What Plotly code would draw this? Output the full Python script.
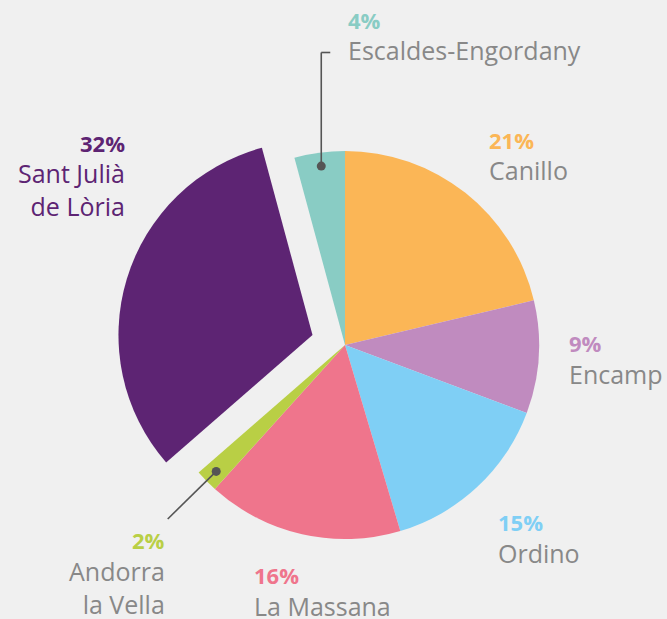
import math
import plotly.graph_objects as go

# ---- data ----
regions = ["Canillo", "Encamp", "Ordino", "La Massana", "Andorra la Vella",
           "Sant Julià de Lòria", "Escaldes-Engordany"]
shares = [21.3, 9.4, 14.7, 16.3, 1.9, 32.2, 4.2]
label_names = ["Canillo", "Encamp", "Ordino", "La Massana", "Andorra<br>la Vella",
               "Sant Julià<br>de Lòria", "Escaldes-Engordany"]

# ---- style ----
colors = ["#fbb656", "#c08bbf", "#7fcff5", "#ef758c", "#b9cf45", "#5d2473", "#89ccc4"]
pulls = [0, 0, 0, 0, 0, 0.175, 0]
BG = "#f0f0f0"
GREY = "#888888"
LINE = "#555555"
FONT = "Open Sans"
W, H = 667, 619
dom_x = [0.1754, 0.8591]
dom_y = [0.0743, 0.811]

# label layout (pixel): x, y-centre of percent line, anchor
label_layout = {
    "Canillo": (488, 140, "left"),
    "Encamp": (568, 343, "left"),
    "Ordino": (497, 522, "left"),
    "La Massana": (253, 575, "left"),
    "Andorra la Vella": (166, 540, "right"),
    "Sant Julià de Lòria": (126, 143, "right"),
    "Escaldes-Engordany": (347, 20, "left"),
}
LINE_GAP = 32.5

fig = go.Figure(go.Pie(
    labels=regions, values=shares, sort=False, direction="clockwise", rotation=0,
    marker=dict(colors=colors, line=dict(width=0)), pull=pulls,
    textinfo="none", hoverinfo="label+percent", showlegend=False,
    domain=dict(x=dom_x, y=dom_y),
))

def px2paper(x, y):
    return x / W, 1 - y / H

cx = (dom_x[0] + dom_x[1]) / 2 * W
cy = (1 - (dom_y[0] + dom_y[1]) / 2) * H
R = min((dom_x[1] - dom_x[0]) * W, (dom_y[1] - dom_y[0]) * H) / (2 * (1 + max(pulls)))
total = sum(shares)

annotations = []
shapes = []
cum = 0
for i, (name, v) in enumerate(zip(regions, shares)):
    mid = (cum + v / 2) / total * 2 * math.pi
    cum += v
    pct = round(v / total * 100)
    lx, ly, anchor = label_layout[name]
    xp, yp = px2paper(lx, ly)
    annotations.append(dict(
        x=xp, y=yp, xref="paper", yref="paper", xanchor=anchor, yanchor="middle",
        text=f"<b>{pct}%</b>", showarrow=False, align=anchor, borderpad=0,
        font=dict(family=FONT, size=22, color=colors[i], weight=800),
    ))
    xn, yn = px2paper(lx, ly + LINE_GAP - 20)
    annotations.append(dict(
        x=xn, y=yn, xref="paper", yref="paper", xanchor=anchor, yanchor="top",
        text=label_names[i], showarrow=False, align=anchor, borderpad=0,
        font=dict(family=FONT, size=25, color=colors[i] if pulls[i] > 0 else GREY),
    ))
    # leader lines for the small slices
    if name in ("Escaldes-Engordany", "Andorra la Vella"):
        dx, dy = math.sin(mid), -math.cos(mid)
        px, py = cx + 0.93 * R * dx, cy + 0.93 * R * dy
        if name == "Escaldes-Engordany":
            ey = ly + LINE_GAP
            pts = [(px, py), (px, ey), (px + 9, ey)]
        else:
            pts = [(px, py), (cx + 1.28 * R * dx, cy + 1.28 * R * dy)]
        for (x0, y0), (x1, y1) in zip(pts[:-1], pts[1:]):
            a0, b0 = px2paper(x0, y0)
            a1, b1 = px2paper(x1, y1)
            shapes.append(dict(type="line", xref="paper", yref="paper",
                               x0=a0, y0=b0, x1=a1, y1=b1,
                               line=dict(color=LINE, width=1.6)))
        r = 4.5
        a0, b0 = px2paper(px - r, py + r)
        a1, b1 = px2paper(px + r, py - r)
        shapes.append(dict(type="circle", xref="paper", yref="paper",
                           x0=a0, y0=b0, x1=a1, y1=b1,
                           fillcolor=LINE, line=dict(width=0)))

fig.update_layout(
    width=W, height=H, margin=dict(l=0, r=0, t=0, b=0),
    paper_bgcolor=BG, plot_bgcolor=BG,
    annotations=annotations, shapes=shapes,
)
fig.write_html("out.html")
